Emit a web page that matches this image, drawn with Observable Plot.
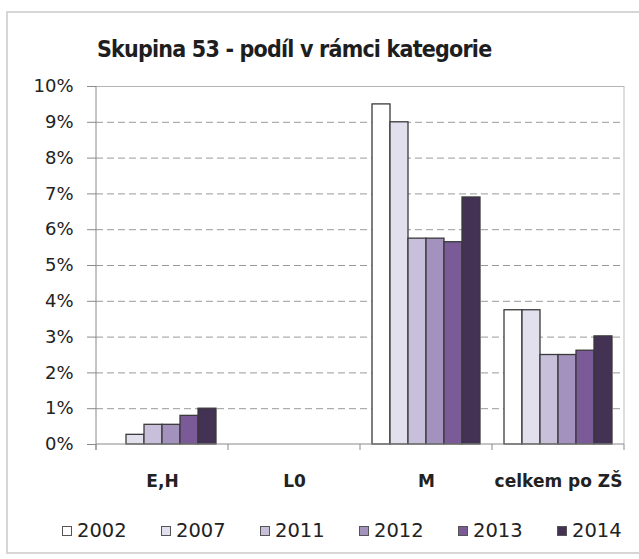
<!DOCTYPE html>
<html>
<head>
<meta charset="utf-8">
<script src="https://cdn.jsdelivr.net/npm/d3@7"></script>
<script src="https://cdn.jsdelivr.net/npm/@observablehq/plot@0.6"></script>
<style>
  body { margin: 0; background: #fff; }
  #wrap { position: relative; width: 639px; height: 559px; overflow: hidden; background: #fff; }
  #border { position: absolute; left: 6px; top: 11px; width: 700px; height: 543px; border: 2px solid #d6d6d6; box-sizing: border-box; }
  #title { position: absolute; left: 97px; top: 34px; font: bold 23px "Liberation Sans Narrow", "DejaVu Sans Condensed", sans-serif; letter-spacing: -0.8px; color: #1e1e1e; white-space: nowrap; line-height: 30px; }
  #chart { position: absolute; left: 0; top: 70px; }
  #legend { position: absolute; left: 62px; top: 519px; display: flex; align-items: center; font: 19.5px "DejaVu Sans", sans-serif; color: #222; line-height: 24px; }
  .item { display: flex; align-items: center; width: 99px; }
  .sw { width: 10px; height: 10px; border: 1px solid #555; box-sizing: border-box; margin-right: 5px; }
</style>
</head>
<body>
<div id="wrap">
  <div id="border"></div>
  <div id="title">Skupina 53 - podíl v rámci kategorie</div>
  <div id="chart"></div>
  <div id="legend"></div>
</div>
<script>
// ---- data ----
const categories = ["E,H", "L0", "M", "celkem po ZŠ"];
const years = ["2002", "2007", "2011", "2012", "2013", "2014"];
const v2002 = [0.00, 0, 9.50, 3.75];
const v2007 = [0.27, 0, 9.00, 3.75];
const v2011 = [0.55, 0, 5.75, 2.50];
const v2012 = [0.55, 0, 5.75, 2.50];
const v2013 = [0.80, 0, 5.65, 2.62];
const v2014 = [1.00, 0, 6.90, 3.02];
const yTicks = [0, 1, 2, 3, 4, 5, 6, 7, 8, 9, 10];
const colors = ["#ffffff", "#e3e0ee", "#c8bfdb", "#a292bd", "#7a5b98", "#433253"];

const series = [v2002, v2007, v2011, v2012, v2013, v2014];
const rows = [];
years.forEach((yr, j) => categories.forEach((c, i) => rows.push({cat: c, year: yr, value: series[j][i] / 100})));
const tickVals = yTicks.map(t => t / 100);

const chart = Plot.plot({
  width: 639,
  height: 430,
  marginTop: 16,
  marginBottom: 56,
  marginLeft: 95,
  marginRight: 14,
  style: { fontFamily: "DejaVu Sans, sans-serif", fontSize: "18px", color: "#222", background: "transparent", overflow: "visible" },
  fx: { domain: categories, padding: 0, label: null, axis: null },
  x: { domain: years, paddingInner: 0, paddingOuter: 0.49, axis: null },
  y: { domain: [0, 0.1], axis: null },
  color: { domain: years, range: colors },
  marks: [
    Plot.gridY(tickVals.slice(1, -1), { stroke: "#9a9a9a", strokeOpacity: 1, strokeDasharray: "7,4" }),
    Plot.ruleY([0.1], { stroke: "#b4b4b4" }),
    Plot.barY(rows, { fx: "cat", x: "year", y: "value", fill: "year", stroke: "#3a3a3a", strokeWidth: 1.3, filter: d => d.value > 0 }),
    Plot.axisY(tickVals, { tickFormat: d3.format(".0%"), tickSize: 9, tickPadding: 14, stroke: "#8a8a8a", fontSize: 18, label: null }),
    Plot.axisFx({ anchor: "bottom", tickSize: 0, tickPadding: 30, fontSize: 17, fontWeight: "bold", label: null })
  ]
});

// axis lines and category boundary ticks, positioned from Plot's own scales
const fxS = chart.scale("fx");
const yS = chart.scale("y");
const bounds = categories.map(c => fxS.apply(c)).concat([fxS.apply(categories[categories.length - 1]) + fxS.bandwidth]);
const y0 = yS.apply(0), yTop = yS.apply(0.1);
const g = d3.select(chart).append("g");
g.append("line").attr("x1", bounds[bounds.length - 1]).attr("x2", bounds[bounds.length - 1]).attr("y1", yTop).attr("y2", y0).attr("stroke", "#bdbdbd");
g.append("line").attr("x1", bounds[0]).attr("x2", bounds[bounds.length - 1]).attr("y1", y0).attr("y2", y0).attr("stroke", "#8a8a8a");
g.append("line").attr("x1", bounds[0]).attr("x2", bounds[0]).attr("y1", yTop).attr("y2", y0 + 6).attr("stroke", "#8a8a8a");
bounds.forEach(b => g.append("line").attr("x1", b).attr("x2", b).attr("y1", y0).attr("y2", y0 + 6).attr("stroke", "#8a8a8a"));

document.getElementById("chart").appendChild(chart);

// legend
const leg = document.getElementById("legend");
years.forEach((yr, j) => {
  const it = document.createElement("div"); it.className = "item";
  const sw = document.createElement("div"); sw.className = "sw"; sw.style.background = colors[j];
  const tx = document.createElement("span"); tx.textContent = yr;
  it.appendChild(sw); it.appendChild(tx); leg.appendChild(it);
});
</script>
</body>
</html>
